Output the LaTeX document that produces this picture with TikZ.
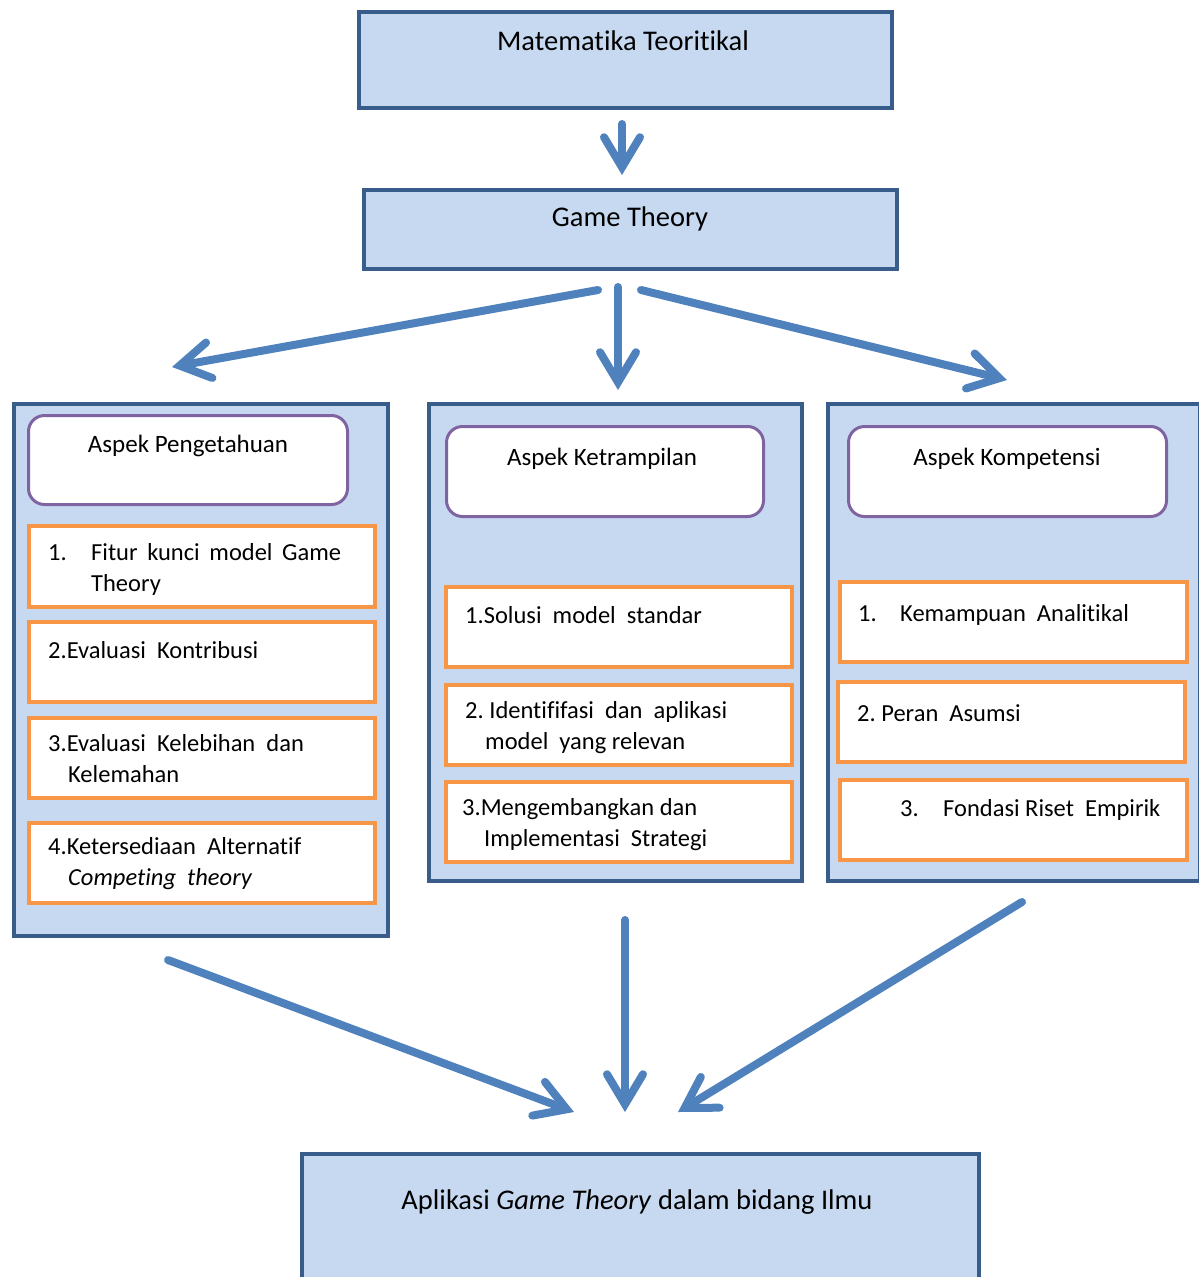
\documentclass[tikz,border=0pt]{standalone}
\usepackage{fontspec}
\setmainfont{Carlito}[Ligatures=NoCommon]
\usetikzlibrary{arrows.meta}

\definecolor{boxfill}{HTML}{C6D9F1}
\definecolor{boxline}{HTML}{385D8A}
\definecolor{arrowblue}{HTML}{4F81BD}
\definecolor{headline}{HTML}{8064A2}
\definecolor{itemline}{HTML}{F79646}

\tikzset{
  mainbox/.style={rectangle, draw=boxline, fill=boxfill, line width=3.5pt, anchor=north west, inner sep=0pt},
  colbox/.style={mainbox},
  headbox/.style={rectangle, rounded corners=16pt, draw=headline, fill=white, line width=3pt, anchor=north west, inner sep=0pt},
  itembox/.style={rectangle, draw=itemline, fill=white, line width=4pt, anchor=north west, inner sep=0pt},
  maintxt/.style={font=\fontsize{28.5}{34}\selectfont, anchor=base, inner sep=0pt},
  headtxt/.style={font=\fontsize{25}{30}\selectfont, anchor=base, inner sep=0pt},
  itemtxt/.style={font=\fontsize{24.5}{31}\selectfont, anchor=base west, inner sep=0pt, align=left},
  bigarrow/.style={draw=arrowblue, line width=8pt, line cap=round,
    -{Straight Barb[length=30pt, width=36pt, line cap=round, line join=miter]}}
}

\begin{document}
\begin{tikzpicture}[x=1pt, y=-1pt]
   \useasboundingbox (0,0) rectangle (1199,1277);
   % top boxes
   \node[mainbox, minimum width=533, minimum height=96] (mat) at (357,10) {};
   \node[maintxt] (matt) at (623,50) {Matematika Teoritikal};
   \node[mainbox, minimum width=533, minimum height=79] (gt) at (362,188) {};
   \node[maintxt] (gtt) at (630,226) {Game Theory};
   \coordinate (matS) at (622,124);
   \coordinate (gtN) at (622,175);
   \draw[bigarrow] (matS) -- (gtN);

   % three columns
   \node[colbox, minimum width=374, minimum height=532] (colA) at (12,402) {};
   \node[colbox, minimum width=373, minimum height=477] (colB) at (427,402) {};
   \node[colbox, minimum width=372, minimum height=477] (colC) at (826,402) {};

   \node[headbox, minimum width=319, minimum height=89] (hA) at (27,414) {};
   \node[headbox, minimum width=317, minimum height=90] (hB) at (445,425) {};
   \node[headbox, minimum width=318, minimum height=90] (hC) at (847,425) {};
   \node[headtxt] (hAt) at (188,452) {Aspek Pengetahuan};
   \node[headtxt] (hBt) at (602,465) {Aspek Ketrampilan};
   \node[headtxt] (hCt) at (1007,465) {Aspek Kompetensi};

   % column A items
   \node[itembox, minimum width=346, minimum height=81] (a1) at (27,524) {};
   \node[itembox, minimum width=346, minimum height=80] (a2) at (27,620) {};
   \node[itembox, minimum width=346, minimum height=80] (a3) at (27,716) {};
   \node[itembox, minimum width=346, minimum height=80] (a4) at (27,821) {};
   \node[itemtxt] (a1t) at (48,591) {\makebox[43pt][l]{1.}Fitur\ \,kunci\ \,model\ \,Game\\\hspace*{43pt}Theory};
   \node[itemtxt] (a2t) at (48,658) {2.Evaluasi\ \ Kontribusi};
   \node[itemtxt] (a3t) at (48,782) {3.Evaluasi\ \ Kelebihan\ \ dan\\\hspace*{20pt}Kelemahan};
   \node[itemtxt] (a4t) at (48,885) {4.Ketersediaan\ \ Alternatif\\\hspace*{20pt}\textit{Competing\ \ theory}};

   % column B items
   \node[itembox, minimum width=346, minimum height=80] (b1) at (444,585) {};
   \node[itembox, minimum width=346, minimum height=80] (b2) at (444,683) {};
   \node[itembox, minimum width=346, minimum height=80] (b3) at (444,780) {};
   \node[itemtxt] (b1t) at (465,623) {1.Solusi\ \ model\ \ standar};
   \node[itemtxt] (b2t) at (465,749) {2.\ Identififasi\ \ dan\ \ aplikasi\\\hspace*{20pt}model\ \ yang\ relevan};
   \node[itemtxt] (b3t) at (462,846) {3.Mengembangkan\ dan\\\hspace*{22pt}Implementasi\ \ Strategi};

   % column C items
   \node[itembox, minimum width=347, minimum height=80] (c1) at (838,580) {};
   \node[itembox, minimum width=347, minimum height=80] (c2) at (836,680) {};
   \node[itembox, minimum width=347, minimum height=80] (c3) at (838,778) {};
   \node[itemtxt] (c1t) at (858,621) {\makebox[42pt][l]{1.}Kemampuan\ \ Analitikal};
   \node[itemtxt] (c2t) at (857,721) {2.\ Peran\ \ Asumsi};
   \node[itemtxt] (c3t) at (900,816) {\makebox[43pt][l]{3.}Fondasi\ Riset\ \ Empirik};

   % bottom box
   \node[mainbox, minimum width=677, minimum height=140] (app) at (300,1152) {};
   \node[maintxt] (appt) at (637,1209) {Aplikasi \textit{Game Theory} dalam bidang Ilmu};

   % arrows
   \coordinate (gtL) at (598,290);
   \coordinate (gtR) at (641,290);
   \coordinate (gtM) at (618,287);
   \coordinate (toA) at (172,367);
   \coordinate (toB) at (618,390);
   \coordinate (toC) at (1007,380);
   \draw[bigarrow] (gtL) -- (toA);
   \draw[bigarrow] (gtM) -- (toB);
   \draw[bigarrow] (gtR) -- (toC);

   \coordinate (fromA) at (168,960);
   \coordinate (fromB) at (625,920);
   \coordinate (fromC) at (1022,902);
   \coordinate (inL) at (574,1112);
   \coordinate (inM) at (625,1112);
   \coordinate (inR) at (678,1112);
   \draw[bigarrow] (fromA) -- (inL);
   \draw[bigarrow] (fromB) -- (inM);
   \draw[bigarrow] (fromC) -- (inR);
\end{tikzpicture}
\end{document}
